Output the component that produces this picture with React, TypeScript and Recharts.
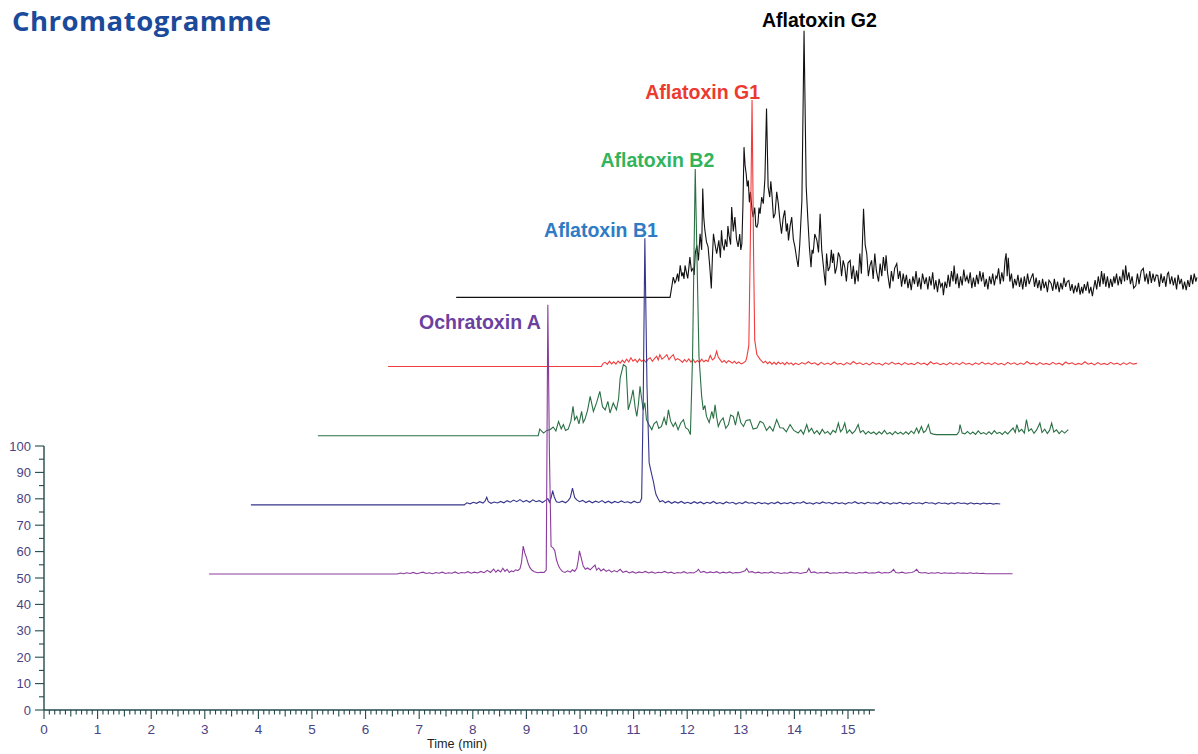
import React from 'react';
import { ComposedChart, Line, XAxis, YAxis, ReferenceLine, Scatter } from 'recharts';

// Each trace: [local time (min), intensity above its own baseline]
const OCHRATOXIN_A: [number, number][] = [
  [3.08,0],[6.59,0],[6.65,0.4],[6.71,0.1],[6.77,0.5],[6.83,0.2],[6.89,0.6],[6.95,0.1],[7.01,0.4],[7.07,0.7],[7.13,0.2],[7.19,0.5],[7.25,0.1],[7.31,0.6],[7.37,0.3],[7.43,0.7],[7.49,0.2],[7.55,0.5],[7.61,0.3],[7.67,0.8],[7.73,0.2],[7.79,0.6],[7.85,0.4],[7.91,0.9],[7.97,0.3],[8.03,0.7],[8.09,0.4],[8.15,1.0],[8.21,0.5],[8.27,1.4],[8.33,0.6],[8.39,1.9],[8.43,0.7],[8.47,1.5],[8.52,0.8],[8.56,2.2],[8.60,1.0],[8.64,1.8],[8.68,0.6],[8.72,1.2],[8.76,0.9],[8.80,1.6],[8.84,1.3],[8.88,2.0],[8.91,4.5],[8.94,10.6],[8.97,8.0],[9.00,6.3],[9.03,4.2],[9.06,2.6],[9.10,1.5],[9.15,0.9],[9.21,0.5],[9.27,0.7],[9.33,0.6],[9.37,1.5],[9.40,102],[9.43,45],[9.46,10.5],[9.50,9.8],[9.53,8.8],[9.56,5.5],[9.60,3.0],[9.63,2.0],[9.67,1.0],[9.72,0.6],[9.77,1.2],[9.82,0.7],[9.86,1.6],[9.90,1.0],[9.94,2.2],[9.97,5.5],[9.99,8.8],[10.02,6.3],[10.06,3.0],[10.10,1.8],[10.14,2.3],[10.19,1.6],[10.23,2.4],[10.28,3.4],[10.31,1.5],[10.35,2.3],[10.39,1.2],[10.44,1.9],[10.49,1.0],[10.54,1.6],[10.59,0.7],[10.64,1.3],[10.69,0.8],[10.75,1.8],[10.80,0.6],[10.86,1.1],[10.92,0.4],[10.98,0.9],[11.04,0.3],[11.10,0.8],[11.16,0.5],[11.22,1.0],[11.28,0.4],[11.34,0.8],[11.40,0.3],[11.46,0.7],[11.52,0.5],[11.58,1.0],[11.64,0.4],[11.70,0.7],[11.76,0.2],[11.82,0.6],[11.88,0.4],[11.94,0.9],[12.00,0.3],[12.06,0.6],[12.12,0.4],[12.18,1.1],[12.21,1.8],[12.25,0.6],[12.31,1.0],[12.37,0.4],[12.43,0.8],[12.49,0.5],[12.55,0.9],[12.61,0.3],[12.67,0.7],[12.73,0.4],[12.79,0.8],[12.85,0.3],[12.91,0.6],[12.97,0.5],[13.03,0.9],[13.08,1.2],[13.11,2.1],[13.15,0.7],[13.21,0.9],[13.27,0.4],[13.33,0.7],[13.39,0.3],[13.45,0.6],[13.51,0.4],[13.57,0.8],[13.63,0.3],[13.69,0.6],[13.75,0.2],[13.81,0.5],[13.87,0.3],[13.93,0.7],[13.99,0.4],[14.05,0.6],[14.11,0.2],[14.17,0.5],[14.23,0.7],[14.27,2.1],[14.31,0.5],[14.37,0.8],[14.43,0.3],[14.49,0.6],[14.55,0.4],[14.61,0.7],[14.67,0.2],[14.73,0.5],[14.79,0.3],[14.85,0.6],[14.91,0.4],[14.97,0.7],[15.03,0.3],[15.09,0.5],[15.15,0.2],[15.21,0.6],[15.27,0.4],[15.33,0.7],[15.39,0.3],[15.45,0.5],[15.51,0.4],[15.57,0.8],[15.63,0.3],[15.69,0.6],[15.75,0.4],[15.81,0.9],[15.85,1.8],[15.89,0.6],[15.95,0.4],[16.01,0.7],[16.07,0.3],[16.13,0.5],[16.19,0.6],[16.24,1.0],[16.28,1.8],[16.32,0.7],[16.38,0.4],[16.44,0.6],[16.50,0.2],[16.56,0.5],[16.62,0.3],[16.68,0.6],[16.74,0.2],[16.80,0.5],[16.86,0.3],[16.92,0.4],[16.98,0.2],[17.04,0.5],[17.10,0.3],[17.16,0.4],[17.22,0.2],[17.28,0.5],[17.34,0.2],[17.40,0.4],[17.46,0.2],[17.52,0.3],[17.56,0.1],[18.07,0.1],
];

const AFLATOXIN_B1: [number, number][] = [
  [2.59,0],[6.57,0],[6.62,0.8],[6.68,0.4],[6.74,1.0],[6.80,0.6],[6.86,1.2],[6.92,0.7],[6.96,1.5],[6.99,2.9],[7.02,1.2],[7.07,0.6],[7.13,1.1],[7.19,0.7],[7.25,1.3],[7.31,0.8],[7.37,1.6],[7.43,1.0],[7.49,1.8],[7.55,1.2],[7.61,2.0],[7.67,1.1],[7.73,1.7],[7.79,1.0],[7.85,1.9],[7.91,1.2],[7.97,1.6],[8.03,0.9],[8.09,1.7],[8.13,2.4],[8.16,1.0],[8.19,2.6],[8.22,5.4],[8.25,3.0],[8.29,1.2],[8.34,0.9],[8.40,1.4],[8.46,0.8],[8.51,1.6],[8.55,2.8],[8.59,6.3],[8.63,2.8],[8.67,1.9],[8.72,1.2],[8.78,1.7],[8.84,0.9],[8.90,1.5],[8.96,0.8],[9.02,1.4],[9.08,0.9],[9.14,1.6],[9.20,0.8],[9.26,1.4],[9.32,0.7],[9.38,1.3],[9.44,0.8],[9.50,1.5],[9.56,0.9],[9.62,1.2],[9.68,0.7],[9.74,1.4],[9.80,0.8],[9.85,1.1],[9.88,2.5],[9.91,40],[9.94,101],[9.98,45],[10.02,16],[10.05,13.2],[10.08,10.5],[10.10,8.8],[10.13,5.5],[10.15,3.8],[10.19,2.2],[10.22,1.2],[10.27,1.6],[10.32,0.8],[10.38,1.4],[10.44,0.6],[10.50,1.2],[10.56,0.7],[10.62,1.3],[10.68,0.6],[10.74,1.0],[10.80,0.5],[10.86,1.2],[10.92,0.6],[10.98,1.1],[11.04,0.4],[11.10,1.0],[11.16,0.6],[11.22,1.3],[11.28,0.5],[11.34,0.9],[11.40,0.4],[11.46,1.1],[11.52,0.6],[11.58,1.0],[11.64,0.3],[11.70,0.9],[11.76,0.5],[11.82,1.2],[11.88,0.6],[11.94,0.9],[12.00,0.4],[12.06,1.0],[12.12,0.5],[12.18,0.8],[12.24,0.3],[12.30,0.9],[12.36,0.5],[12.42,1.1],[12.48,0.4],[12.54,0.8],[12.60,0.5],[12.66,1.0],[12.72,0.4],[12.78,0.9],[12.84,0.6],[12.90,1.2],[12.96,0.5],[13.02,0.8],[13.08,0.3],[13.14,0.9],[13.20,0.5],[13.26,1.1],[13.32,0.6],[13.38,0.9],[13.44,0.4],[13.50,1.0],[13.56,0.5],[13.62,0.8],[13.68,0.3],[13.74,0.9],[13.80,0.6],[13.86,1.2],[13.92,0.5],[13.98,0.9],[14.04,0.4],[14.10,1.0],[14.16,0.6],[14.22,0.8],[14.28,0.4],[14.34,1.1],[14.40,0.5],[14.46,0.9],[14.52,0.3],[14.58,0.8],[14.64,0.5],[14.70,1.0],[14.76,0.4],[14.82,0.7],[14.88,0.3],[14.94,0.9],[15.00,0.5],[15.06,0.8],[15.12,0.4],[15.18,1.0],[15.24,0.6],[15.30,0.8],[15.36,0.3],[15.42,0.9],[15.48,0.5],[15.54,0.7],[15.60,0.3],[15.66,0.8],[15.72,0.4],[15.78,0.9],[15.84,0.5],[15.90,0.7],[15.96,0.3],[16.02,0.8],[16.08,0.4],[16.14,0.6],[16.20,0.3],[16.26,0.7],[16.32,0.4],[16.38,0.6],[16.44,0.3],[16.50,0.5],[16.57,0.3],
];

const AFLATOXIN_B2: [number, number][] = [
  [2.57,0],[6.68,0],[6.71,2.5],[6.78,1.0],[6.84,2.0],[6.90,2.3],[6.96,3.3],[7.01,1.8],[7.06,5.4],[7.11,2.6],[7.15,4.2],[7.19,2.0],[7.24,2.5],[7.29,5.5],[7.33,11.1],[7.36,6.0],[7.40,7.3],[7.44,4.5],[7.49,9.2],[7.52,5.0],[7.55,6.1],[7.60,9.5],[7.65,14.9],[7.71,9.2],[7.77,12.5],[7.83,16.8],[7.88,11.0],[7.93,9.8],[7.98,13.0],[8.02,8.6],[8.08,12.4],[8.14,9.8],[8.18,14.0],[8.21,21.9],[8.27,26.9],[8.32,26.2],[8.36,9.8],[8.41,13.5],[8.45,17.4],[8.49,10.5],[8.52,7.3],[8.55,12.0],[8.58,18.7],[8.61,14.0],[8.64,9.8],[8.67,12.5],[8.70,6.1],[8.75,4.0],[8.80,2.3],[8.84,4.5],[8.89,5.4],[8.93,2.8],[8.98,3.5],[9.03,6.8],[9.07,4.0],[9.11,9.8],[9.15,5.5],[9.20,3.5],[9.24,5.0],[9.29,2.3],[9.34,4.8],[9.39,6.1],[9.43,3.0],[9.48,2.3],[9.52,0.4],[9.56,30],[9.61,101],[9.65,60],[9.68,30],[9.73,14.9],[9.76,9.8],[9.79,11.5],[9.82,7.3],[9.87,5.0],[9.92,9.2],[9.95,6.5],[9.98,11.7],[10.01,7.0],[10.04,3.5],[10.08,5.5],[10.13,6.7],[10.18,2.8],[10.23,4.2],[10.27,7.8],[10.32,7.3],[10.36,4.0],[10.41,9.2],[10.46,5.0],[10.51,3.5],[10.56,5.8],[10.63,6.1],[10.69,2.5],[10.76,2.9],[10.82,5.5],[10.88,4.8],[10.94,2.0],[11.00,3.5],[11.06,1.8],[11.13,6.1],[11.19,3.0],[11.25,2.9],[11.31,1.5],[11.38,4.2],[11.45,2.0],[11.53,1.0],[11.58,2.2],[11.63,0.6],[11.69,4.2],[11.73,1.5],[11.78,2.8],[11.83,0.8],[11.88,1.9],[11.93,0.5],[11.98,2.4],[12.03,0.9],[12.08,1.6],[12.13,0.4],[12.18,2.0],[12.23,1.2],[12.28,4.8],[12.32,1.5],[12.36,2.5],[12.40,4.8],[12.44,1.0],[12.49,2.2],[12.54,0.8],[12.59,1.8],[12.65,4.2],[12.69,1.2],[12.74,2.0],[12.79,0.6],[12.84,1.6],[12.89,0.8],[12.94,1.4],[12.99,0.5],[13.04,1.5],[13.09,0.7],[13.14,2.0],[13.19,0.6],[13.24,1.2],[13.29,0.4],[13.34,1.6],[13.39,0.7],[13.44,1.3],[13.49,0.5],[13.54,1.5],[13.59,0.6],[13.64,1.8],[13.69,0.8],[13.74,2.9],[13.78,1.0],[13.83,3.5],[13.87,1.2],[13.91,1.8],[13.96,4.2],[14.00,1.0],[14.05,0.6],[14.11,0.4],[14.49,0.4],[14.53,1.5],[14.55,4.2],[14.59,1.0],[14.64,0.7],[14.69,1.6],[14.74,0.6],[14.79,1.4],[14.84,0.5],[14.89,1.8],[14.94,0.7],[14.99,1.2],[15.04,0.5],[15.09,1.5],[15.14,0.6],[15.19,1.9],[15.24,0.8],[15.29,1.3],[15.34,0.5],[15.39,1.6],[15.44,0.7],[15.49,1.8],[15.54,2.9],[15.58,1.2],[15.61,4.2],[15.65,1.5],[15.70,2.4],[15.75,1.0],[15.79,6.1],[15.83,1.8],[15.88,2.6],[15.93,0.9],[15.98,2.2],[16.04,4.8],[16.08,1.2],[16.13,2.5],[16.18,0.8],[16.22,2.0],[16.26,4.8],[16.30,1.4],[16.35,2.2],[16.40,0.8],[16.45,1.9],[16.50,1.0],[16.57,2.3],
];

const AFLATOXIN_G1: [number, number][] = [
  [2.61,0],[6.59,0],[6.62,1.2],[6.66,1.6],[6.70,0.8],[6.74,2.0],[6.78,1.0],[6.82,1.8],[6.86,0.9],[6.90,2.1],[6.94,1.3],[6.98,2.4],[7.02,1.5],[7.06,2.8],[7.10,1.7],[7.14,3.3],[7.18,2.0],[7.22,2.7],[7.26,1.6],[7.30,2.9],[7.34,1.9],[7.38,2.6],[7.42,1.7],[7.46,2.8],[7.50,3.3],[7.54,2.0],[7.58,3.0],[7.62,3.9],[7.65,2.5],[7.68,4.5],[7.72,2.8],[7.76,3.5],[7.81,4.5],[7.85,2.6],[7.89,3.7],[7.93,4.5],[7.97,2.4],[8.01,3.0],[8.06,2.4],[8.10,1.6],[8.14,2.6],[8.18,1.8],[8.22,2.9],[8.26,1.7],[8.30,2.7],[8.34,1.5],[8.38,2.3],[8.42,1.6],[8.46,2.8],[8.50,1.8],[8.54,2.4],[8.58,1.9],[8.62,4.2],[8.66,2.5],[8.70,3.2],[8.74,5.8],[8.77,3.5],[8.80,2.7],[8.84,1.6],[8.88,2.3],[8.92,1.4],[8.96,2.2],[8.99,1.9],[9.03,1.3],[9.07,2.0],[9.11,1.1],[9.15,1.7],[9.20,1.0],[9.24,1.4],[9.28,2.0],[9.30,3.3],[9.34,8],[9.37,50],[9.40,101],[9.43,40],[9.45,10],[9.49,4.5],[9.55,2.7],[9.61,1.4],[9.65,2.0],[9.69,1.1],[9.73,1.8],[9.77,0.9],[9.81,1.6],[9.85,0.8],[9.89,1.7],[9.93,1.0],[9.97,1.5],[10.01,0.7],[10.05,1.6],[10.09,0.9],[10.13,1.4],[10.17,0.6],[10.21,1.3],[10.27,0.7],[10.33,1.5],[10.39,0.9],[10.45,1.8],[10.51,1.0],[10.57,1.4],[10.63,0.6],[10.69,1.6],[10.75,0.8],[10.81,1.3],[10.87,0.7],[10.93,1.7],[10.99,0.9],[11.05,1.2],[11.11,0.6],[11.17,1.5],[11.23,0.8],[11.29,1.9],[11.35,1.0],[11.41,1.4],[11.47,0.7],[11.53,1.3],[11.59,0.6],[11.65,1.6],[11.71,0.9],[11.77,1.2],[11.83,0.5],[11.89,1.4],[11.95,0.8],[12.01,1.7],[12.07,0.9],[12.13,1.3],[12.19,0.6],[12.25,1.5],[12.31,0.8],[12.37,1.2],[12.43,0.7],[12.49,1.6],[12.55,0.9],[12.61,1.3],[12.67,0.6],[12.73,1.8],[12.79,1.0],[12.85,1.4],[12.91,0.7],[12.97,1.2],[13.03,0.6],[13.09,1.5],[13.15,0.8],[13.21,1.3],[13.27,0.7],[13.33,1.6],[13.39,0.9],[13.45,1.2],[13.51,0.6],[13.57,1.4],[13.63,0.8],[13.69,1.7],[13.75,0.9],[13.81,1.3],[13.87,0.7],[13.93,1.5],[13.99,0.8],[14.05,1.2],[14.11,0.6],[14.17,1.6],[14.23,0.9],[14.29,1.4],[14.35,0.7],[14.41,1.3],[14.47,0.8],[14.53,1.9],[14.59,1.0],[14.65,1.3],[14.71,0.6],[14.77,1.5],[14.83,0.8],[14.89,1.2],[14.95,0.7],[15.01,1.6],[15.07,0.9],[15.13,1.3],[15.19,0.6],[15.25,1.7],[15.31,1.0],[15.37,1.4],[15.43,0.7],[15.49,1.2],[15.55,0.8],[15.61,1.8],[15.67,0.9],[15.73,1.3],[15.79,0.6],[15.85,1.5],[15.91,0.8],[15.97,1.2],[16.03,0.7],[16.09,1.6],[16.15,0.9],[16.21,1.3],[16.27,0.6],[16.33,1.4],[16.39,0.8],[16.45,1.5],[16.51,0.9],[16.58,1.2],
];

const AFLATOXIN_G2: [number, number][] = [
  [2.61,0],[6.60,0],[6.64,5.0],[6.66,7.7],[6.69,5.5],[6.71,6.4],[6.74,9.0],[6.76,6.0],[6.79,12.1],[6.82,8.0],[6.84,9.5],[6.86,7.0],[6.88,12.1],[6.91,9.0],[6.93,7.2],[6.95,11.0],[6.97,15.3],[7.00,10.0],[7.03,11.0],[7.05,8.5],[7.07,16.6],[7.10,19.7],[7.13,14.0],[7.16,24.1],[7.19,18.0],[7.21,41.2],[7.23,30.0],[7.25,25.4],[7.28,21.0],[7.31,19.1],[7.34,12.0],[7.37,3.4],[7.39,15.0],[7.41,24.1],[7.44,20.0],[7.47,16.6],[7.49,19.0],[7.51,21.6],[7.54,15.0],[7.56,25.4],[7.58,20.0],[7.61,17.8],[7.63,22.0],[7.66,19.1],[7.68,27.0],[7.70,23.5],[7.73,20.0],[7.75,34.2],[7.78,25.0],[7.81,30.4],[7.84,22.0],[7.87,19.1],[7.90,24.0],[7.92,18.0],[7.94,20.3],[7.96,35.0],[7.98,56.9],[8.00,50.0],[8.02,46.9],[8.04,42.0],[8.06,44.3],[8.08,36.0],[8.10,39.9],[8.13,33.0],[8.15,30.4],[8.18,34.0],[8.20,27.0],[8.22,26.6],[8.24,28.0],[8.26,34.0],[8.28,31.7],[8.31,38.0],[8.34,35.5],[8.37,45.0],[8.40,71.5],[8.43,41.8],[8.46,38.0],[8.48,44.0],[8.50,39.3],[8.53,30.0],[8.56,31.7],[8.59,40.0],[8.62,35.5],[8.65,29.0],[8.68,24.1],[8.71,30.0],[8.74,33.0],[8.77,25.0],[8.79,28.0],[8.81,21.6],[8.84,27.0],[8.87,30.4],[8.90,22.0],[8.93,19.1],[8.96,15.0],[8.99,11.5],[9.02,20.0],[9.06,36.7],[9.10,101],[9.14,42.0],[9.17,30.0],[9.20,19.1],[9.23,11.4],[9.25,18.0],[9.27,16.6],[9.30,24.0],[9.34,21.6],[9.37,17.0],[9.40,31.7],[9.43,18.0],[9.45,14.0],[9.48,8.0],[9.50,4.5],[9.52,16.6],[9.55,10.0],[9.58,11.5],[9.61,18.0],[9.63,13.0],[9.65,16.6],[9.68,9.0],[9.71,11.5],[9.74,17.0],[9.77,15.3],[9.80,8.0],[9.83,14.0],[9.86,11.5],[9.89,6.0],[9.92,13.0],[9.96,14.0],[9.99,7.0],[10.02,12.0],[10.05,5.0],[10.08,10.2],[10.11,6.0],[10.14,16.6],[10.17,9.0],[10.21,33.6],[10.24,20.0],[10.27,16.6],[10.30,8.0],[10.33,12.0],[10.36,14.0],[10.39,7.0],[10.42,16.6],[10.45,10.0],[10.49,6.0],[10.52,12.8],[10.55,8.0],[10.58,15.3],[10.61,10.0],[10.63,15.9],[10.66,9.0],[10.70,3.4],[10.73,10.0],[10.76,6.0],[10.79,11.0],[10.83,12.8],[10.86,7.0],[10.89,10.0],[10.92,4.0],[10.95,9.0],[10.98,5.0],[11.01,8.5],[11.04,3.5],[11.07,7.0],[11.10,2.7],[11.13,8.0],[11.16,5.0],[11.19,10.0],[11.22,4.0],[11.25,7.5],[11.28,3.0],[11.31,9.0],[11.35,5.0],[11.38,7.6],[11.41,3.0],[11.44,8.0],[11.47,4.5],[11.50,9.5],[11.53,3.0],[11.56,6.5],[11.59,2.0],[11.62,7.0],[11.65,4.0],[11.68,5.5],[11.70,0.8],[11.73,6.0],[11.76,3.5],[11.79,8.5],[11.82,4.0],[11.85,10.0],[11.88,6.0],[11.90,12.1],[11.93,5.0],[11.96,9.0],[11.99,3.5],[12.02,8.0],[12.05,4.5],[12.08,10.5],[12.11,6.0],[12.14,8.0],[12.17,5.3],[12.20,9.5],[12.23,3.5],[12.26,7.5],[12.29,4.0],[12.32,8.5],[12.35,5.0],[12.38,10.0],[12.41,6.0],[12.44,9.5],[12.47,4.0],[12.50,7.0],[12.53,3.0],[12.56,8.0],[12.59,5.0],[12.62,9.0],[12.65,4.5],[12.68,8.0],[12.70,7.2],[12.73,11.0],[12.76,5.0],[12.79,9.5],[12.82,6.0],[12.85,14.0],[12.87,16.7],[12.89,8.0],[12.91,15.0],[12.94,6.0],[12.97,9.0],[13.00,3.4],[13.03,7.0],[13.06,4.5],[13.09,8.5],[13.12,4.0],[13.15,7.5],[13.18,3.0],[13.21,8.0],[13.24,4.0],[13.27,9.0],[13.30,5.0],[13.33,7.0],[13.37,9.1],[13.40,4.0],[13.43,7.5],[13.46,3.5],[13.49,6.5],[13.52,2.5],[13.55,7.0],[13.58,3.5],[13.61,6.0],[13.64,2.0],[13.67,6.5],[13.71,5.3],[13.74,2.5],[13.77,7.0],[13.80,3.0],[13.83,6.0],[13.86,2.0],[13.89,5.5],[13.92,3.0],[13.95,7.5],[13.98,4.0],[14.01,6.0],[14.04,6.4],[14.07,2.5],[14.10,5.0],[14.13,1.5],[14.16,4.5],[14.19,2.0],[14.22,5.5],[14.25,1.0],[14.28,4.0],[14.30,1.5],[14.33,5.0],[14.36,2.5],[14.39,6.0],[14.42,1.5],[14.45,4.0],[14.48,0.5],[14.50,3.0],[14.53,6.5],[14.56,3.0],[14.59,8.0],[14.62,4.0],[14.65,10.0],[14.68,5.0],[14.70,9.1],[14.73,4.0],[14.76,8.0],[14.79,3.5],[14.82,7.0],[14.85,4.0],[14.88,8.0],[14.90,5.3],[14.93,9.0],[14.96,4.5],[14.99,8.0],[15.02,5.0],[15.05,10.5],[15.08,6.0],[15.10,12.1],[15.13,6.5],[15.16,9.5],[15.19,5.0],[15.22,8.0],[15.25,3.5],[15.29,4.5],[15.32,9.0],[15.35,5.0],[15.39,10.0],[15.43,11.0],[15.46,6.0],[15.49,9.0],[15.52,5.0],[15.55,10.0],[15.58,5.5],[15.61,9.0],[15.64,6.0],[15.67,8.5],[15.70,8.3],[15.73,4.0],[15.76,9.0],[15.79,5.5],[15.82,8.0],[15.85,4.0],[15.88,9.0],[15.90,9.5],[15.93,5.0],[15.96,8.0],[15.99,4.5],[16.02,7.5],[16.05,3.0],[16.08,8.5],[16.11,5.0],[16.14,7.0],[16.17,3.0],[16.20,6.0],[16.23,2.7],[16.26,6.5],[16.29,4.0],[16.32,8.5],[16.35,5.0],[16.38,9.0],[16.41,6.0],[16.43,7.6],
];

// Pseudo-3D stacking of the traces
const TRACE_SHIFT_MIN = 1.27;
const TRACE_SHIFT_Y = 26.2;
const BASE_LEVEL = 51.5;

const X_MAX = 21.53;
const Y_MAX = 260;
const X_MAJOR = [0, 1, 2, 3, 4, 5, 6, 7, 8, 9, 10, 11, 12, 13, 14, 15];
const X_TICKS = Array.from({ length: 155 }, (_, i) => i / 10);
const Y_TICKS = Array.from({ length: 21 }, (_, i) => i * 5);
const X_AXIS_END = 15.5;
const Y_AXIS_END = 100;

const TRACES = [
  { name: 'Ochratoxin A', points: OCHRATOXIN_A, line: '#8a3c9c', text: '#6b40a0', dx: -7, dy: 24, anchor: 'end' },
  { name: 'Aflatoxin B1', points: AFLATOXIN_B1, line: '#36358c', text: '#2f7bc4', dx: 13, dy: -1, anchor: 'end' },
  { name: 'Aflatoxin B2', points: AFLATOXIN_B2, line: '#2a7044', text: '#33b35c', dx: 19, dy: -2.5, anchor: 'end' },
  { name: 'Aflatoxin G1', points: AFLATOXIN_G1, line: '#f03c3c', text: '#ec3a30', dx: 8, dy: -1, anchor: 'end' },
  { name: 'Aflatoxin G2', points: AFLATOXIN_G2, line: '#111111', text: '#000000', dx: -42, dy: -4, anchor: 'start' },
];

const AXIS_COLOR = '#234a4c';
const TICK_TEXT = '#4a4383';
const FONT = "'Liberation Sans', Arial, Helvetica, sans-serif";

const series = TRACES.map((t, i) => {
  const data = t.points.map(([x, v]) => ({ x: x + i * TRACE_SHIFT_MIN, y: BASE_LEVEL + i * TRACE_SHIFT_Y + v }));
  const peak = data.reduce((a, b) => (b.y > a.y ? b : a), data[0]);
  return { ...t, data, peak };
});

const XTick = (props: any) => {
  const { x, y, payload } = props;
  const v = Number(payload.value);
  const tenth = Math.round(v * 10);
  const major = tenth % 10 === 0;
  const half = tenth % 10 === 5;
  const len = major ? 9 : half ? 6.5 : 4.5;
  return (
    <g>
      <line x1={x} x2={x} y1={y} y2={y + len} stroke={AXIS_COLOR} strokeWidth={1.1} />
      {major && X_MAJOR.includes(tenth / 10) && (
        <text x={x} y={y + 24} textAnchor="middle" fontSize={13.5} fill={TICK_TEXT} fontFamily={FONT}>
          {tenth / 10}
        </text>
      )}
    </g>
  );
};

const YTick = (props: any) => {
  const { x, y, payload } = props;
  const v = Number(payload.value);
  const major = v % 10 === 0;
  const len = major ? 9 : 5;
  return (
    <g>
      <line x1={x - len} x2={x} y1={y} y2={y} stroke={AXIS_COLOR} strokeWidth={1.1} />
      {major && (
        <text x={x - 13} y={y + 4.6} textAnchor="end" fontSize={13} fill={TICK_TEXT} fontFamily={FONT}>
          {v}
        </text>
      )}
    </g>
  );
};

const drawOrder = [4, 3, 2, 1, 0];

export default function App() {
  return (
    <div style={{ position: 'absolute', left: 0, top: 0, width: 1198, height: 754, background: '#fff' }}>
      <div
        style={{
          position: 'absolute', left: 12, top: 7, fontFamily: "'Open Sans', sans-serif", fontWeight: 700,
          fontSize: 27.5, letterSpacing: 0.5, lineHeight: 1, color: '#1b4a9a', whiteSpace: 'nowrap',
        }}
      >
        Chromatogramme
      </div>
      <ComposedChart width={1198} height={754} margin={{ top: 23.6, right: 0, bottom: 0, left: 0 }} style={{ overflow: 'visible' }}>
        <XAxis
          type="number" dataKey="x" domain={[0, X_MAX]} ticks={X_TICKS} interval={0} tick={<XTick />}
          tickLine={false} axisLine={false} tickSize={0} tickMargin={0} height={44}
        />
        <YAxis
          type="number" domain={[0, Y_MAX]} ticks={Y_TICKS} interval={0} tick={<YTick />}
          tickLine={false} axisLine={false} tickSize={0} tickMargin={0} width={44}
        />
        <ReferenceLine segment={[{ x: 0, y: 0 }, { x: X_AXIS_END, y: 0 }]} stroke={AXIS_COLOR} strokeWidth={1.4} ifOverflow="visible" />
        <ReferenceLine segment={[{ x: 0, y: 0 }, { x: 0, y: Y_AXIS_END }]} stroke={AXIS_COLOR} strokeWidth={1.4} ifOverflow="visible" />
        {drawOrder.map((i) => {
          const s = series[i];
          return (
            <Line
              key={s.name} data={s.data} dataKey="y" type="linear" stroke={s.line} strokeWidth={1.1}
              dot={false} activeDot={false} isAnimationActive={false} strokeLinejoin="miter"
            />
          );
        })}
        {series.map((s) => (
          <Scatter
            key={'lbl-' + s.name} data={[s.peak]} dataKey="y" isAnimationActive={false}
            shape={(p: any) => (
              <text x={p.cx + s.dx} y={p.cy + s.dy} textAnchor={s.anchor} fontSize={19.5} fontWeight={700} fill={s.text} fontFamily={FONT}>
                {s.name}
              </text>
            )}
          />
        ))}
      </ComposedChart>
      <div
        style={{
          position: 'absolute', left: 457, top: 737.8, transform: 'translateX(-50%)', fontFamily: FONT,
          fontSize: 12.7, lineHeight: 1, color: '#231f20', whiteSpace: 'nowrap',
        }}
      >
        Time (min)
      </div>
    </div>
  );
}
